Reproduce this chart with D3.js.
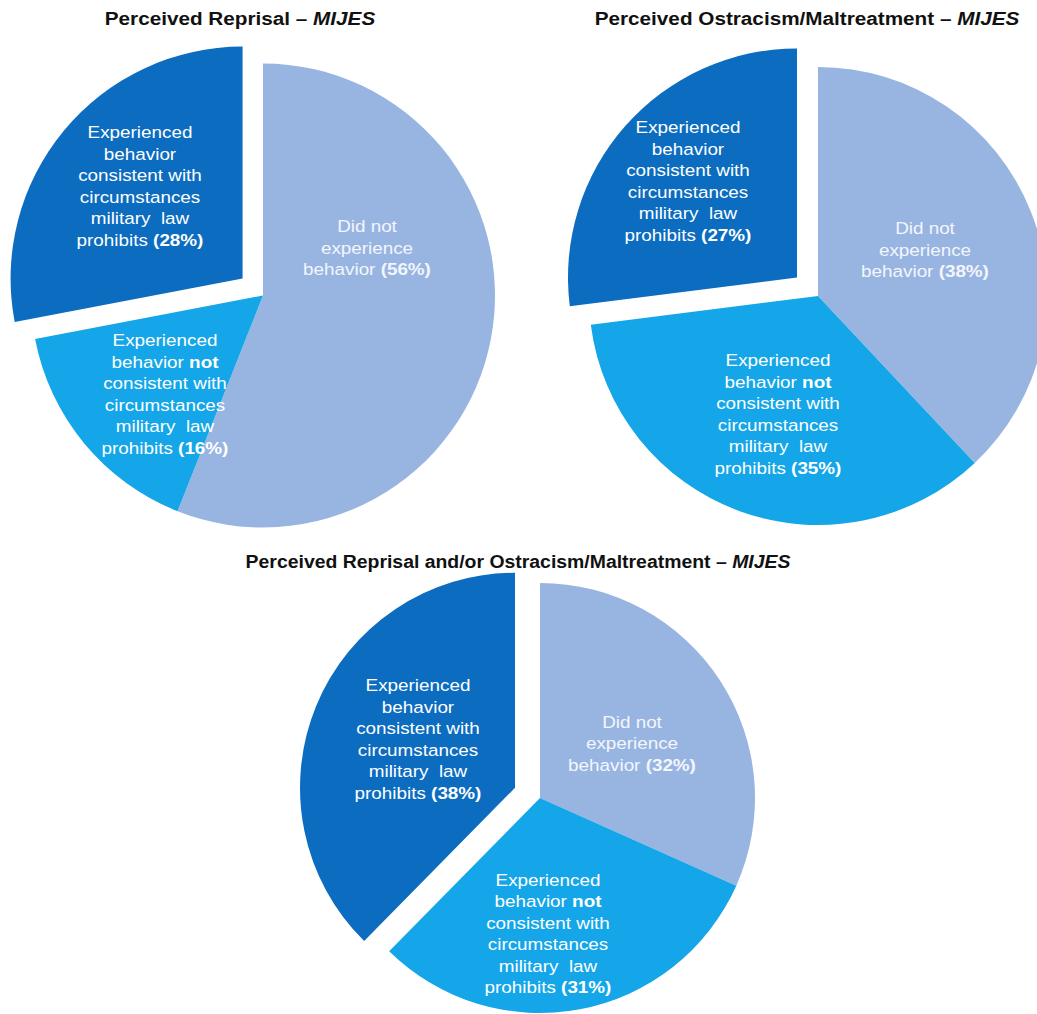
<!DOCTYPE html>
<html>
<head>
<meta charset="utf-8">
<script src="https://cdn.jsdelivr.net/npm/d3@7"></script>
<style>
  html, body { margin: 0; padding: 0; background: #ffffff; }
  svg { display: block; }
  text { font-family: "Liberation Sans", Arial, sans-serif; white-space: pre; }
</style>
</head>
<body>
<svg id="chart" width="1037" height="1014"></svg>
<script>
// ---- Data ----
const categories = ["Did not experience behavior", "Experienced behavior not consistent", "Experienced behavior consistent"];
const titleMain = ["Perceived Reprisal – ", "Perceived Ostracism/Maltreatment – ", "Perceived Reprisal and/or Ostracism/Maltreatment – "];
const titleItalic = ["MIJES", "MIJES", "MIJES"];
const reprisalValues = [56, 16, 28];
const ostracismValues = [38, 35, 27];
const combinedValues = [32, 31, 38];
const seriesValues = [reprisalValues, ostracismValues, combinedValues];

// label texts per category (last line gets the percentage)
const labelLines = [
  [["Did not"], ["experience"], ["behavior "]],
  [["Experienced"], ["behavior ", "not"], ["consistent with"], ["circumstances"], ["military  law"], ["prohibits "]],
  [["Experienced"], ["behavior"], ["consistent with"], ["circumstances"], ["military  law"], ["prohibits "]]
];

// ---- Layout / style ----
const colors = ["#98b5e2", "#14a6e8", "#0b6cc0"];
const layout = [
  { cx: 263, cy: 295.5, r: 232, explode: 26.5, tx: 240, ty: 25, tstretch: 1.12,
    labels: [[104, -47.5], [-98, 98.5], [-123, -109.5]] },
  { cx: 818, cy: 296, r: 229, explode: 28, tx: 807, ty: 25, tstretch: 1.12,
    labels: [[107, -46], [-40, 118], [-130, -115]] },
  { cx: 540, cy: 798, r: 215, explode: 27, tx: 518, ty: 568, tstretch: 1.05,
    labels: [[92, -54.5], [8, 135.5], [-122, -59]] }
];
const lineH = 21.5;
const fontSize = 17;
const stretch = 1.11;
const titleSize = 18.5;

const svg = d3.select("#chart");
const pie = d3.pie().sort(null).value(d => d);

seriesValues.forEach((vals, ci) => {
  const L = layout[ci];
  const arc = d3.arc().innerRadius(0).outerRadius(L.r);
  const g = svg.append("g").attr("transform", `translate(${L.cx},${L.cy})`);
  const arcs = pie(vals);

  g.selectAll("path").data(arcs).enter().append("path")
    .attr("d", arc)
    .attr("fill", (d, i) => colors[i])
    .attr("transform", (d, i) => {
      if (i !== 2) return null;
      const a = (d.startAngle + d.endAngle) / 2;
      return `translate(${Math.sin(a) * L.explode},${-Math.cos(a) * L.explode})`;
    });

  // labels
  arcs.forEach((d, i) => {
    const lines = labelLines[i];
    const [ox, oy] = L.labels[i];
    const n = lines.length;
    const t = g.append("text")
      .attr("transform", `translate(${ox},${oy}) scale(${stretch},1)`)
      .attr("text-anchor", "middle")
      .attr("font-size", fontSize)
      .attr("fill", i === 0 ? "#f3f6fc" : "#ffffff");
    lines.forEach((parts, li) => {
      const y = (li - (n - 1) / 2) * lineH + fontSize * 0.35;
      const line = t.append("tspan").attr("x", 0).attr("y", y);
      line.append("tspan").text(parts[0]);
      if (parts[1]) line.append("tspan").attr("font-weight", "bold").text(parts[1]);
      if (li === n - 1) line.append("tspan").attr("font-weight", "bold").text(`(${d.data}%)`);
    });
  });

  // title
  const tt = svg.append("text")
    .attr("transform", `translate(${L.tx},${L.ty}) scale(${L.tstretch},1)`)
    .attr("text-anchor", "middle")
    .attr("font-size", titleSize)
    .attr("font-weight", "bold")
    .attr("fill", "#111");
  tt.append("tspan").text(titleMain[ci]);
  tt.append("tspan").attr("font-style", "italic").text(titleItalic[ci]);
});
</script>
</body>
</html>
